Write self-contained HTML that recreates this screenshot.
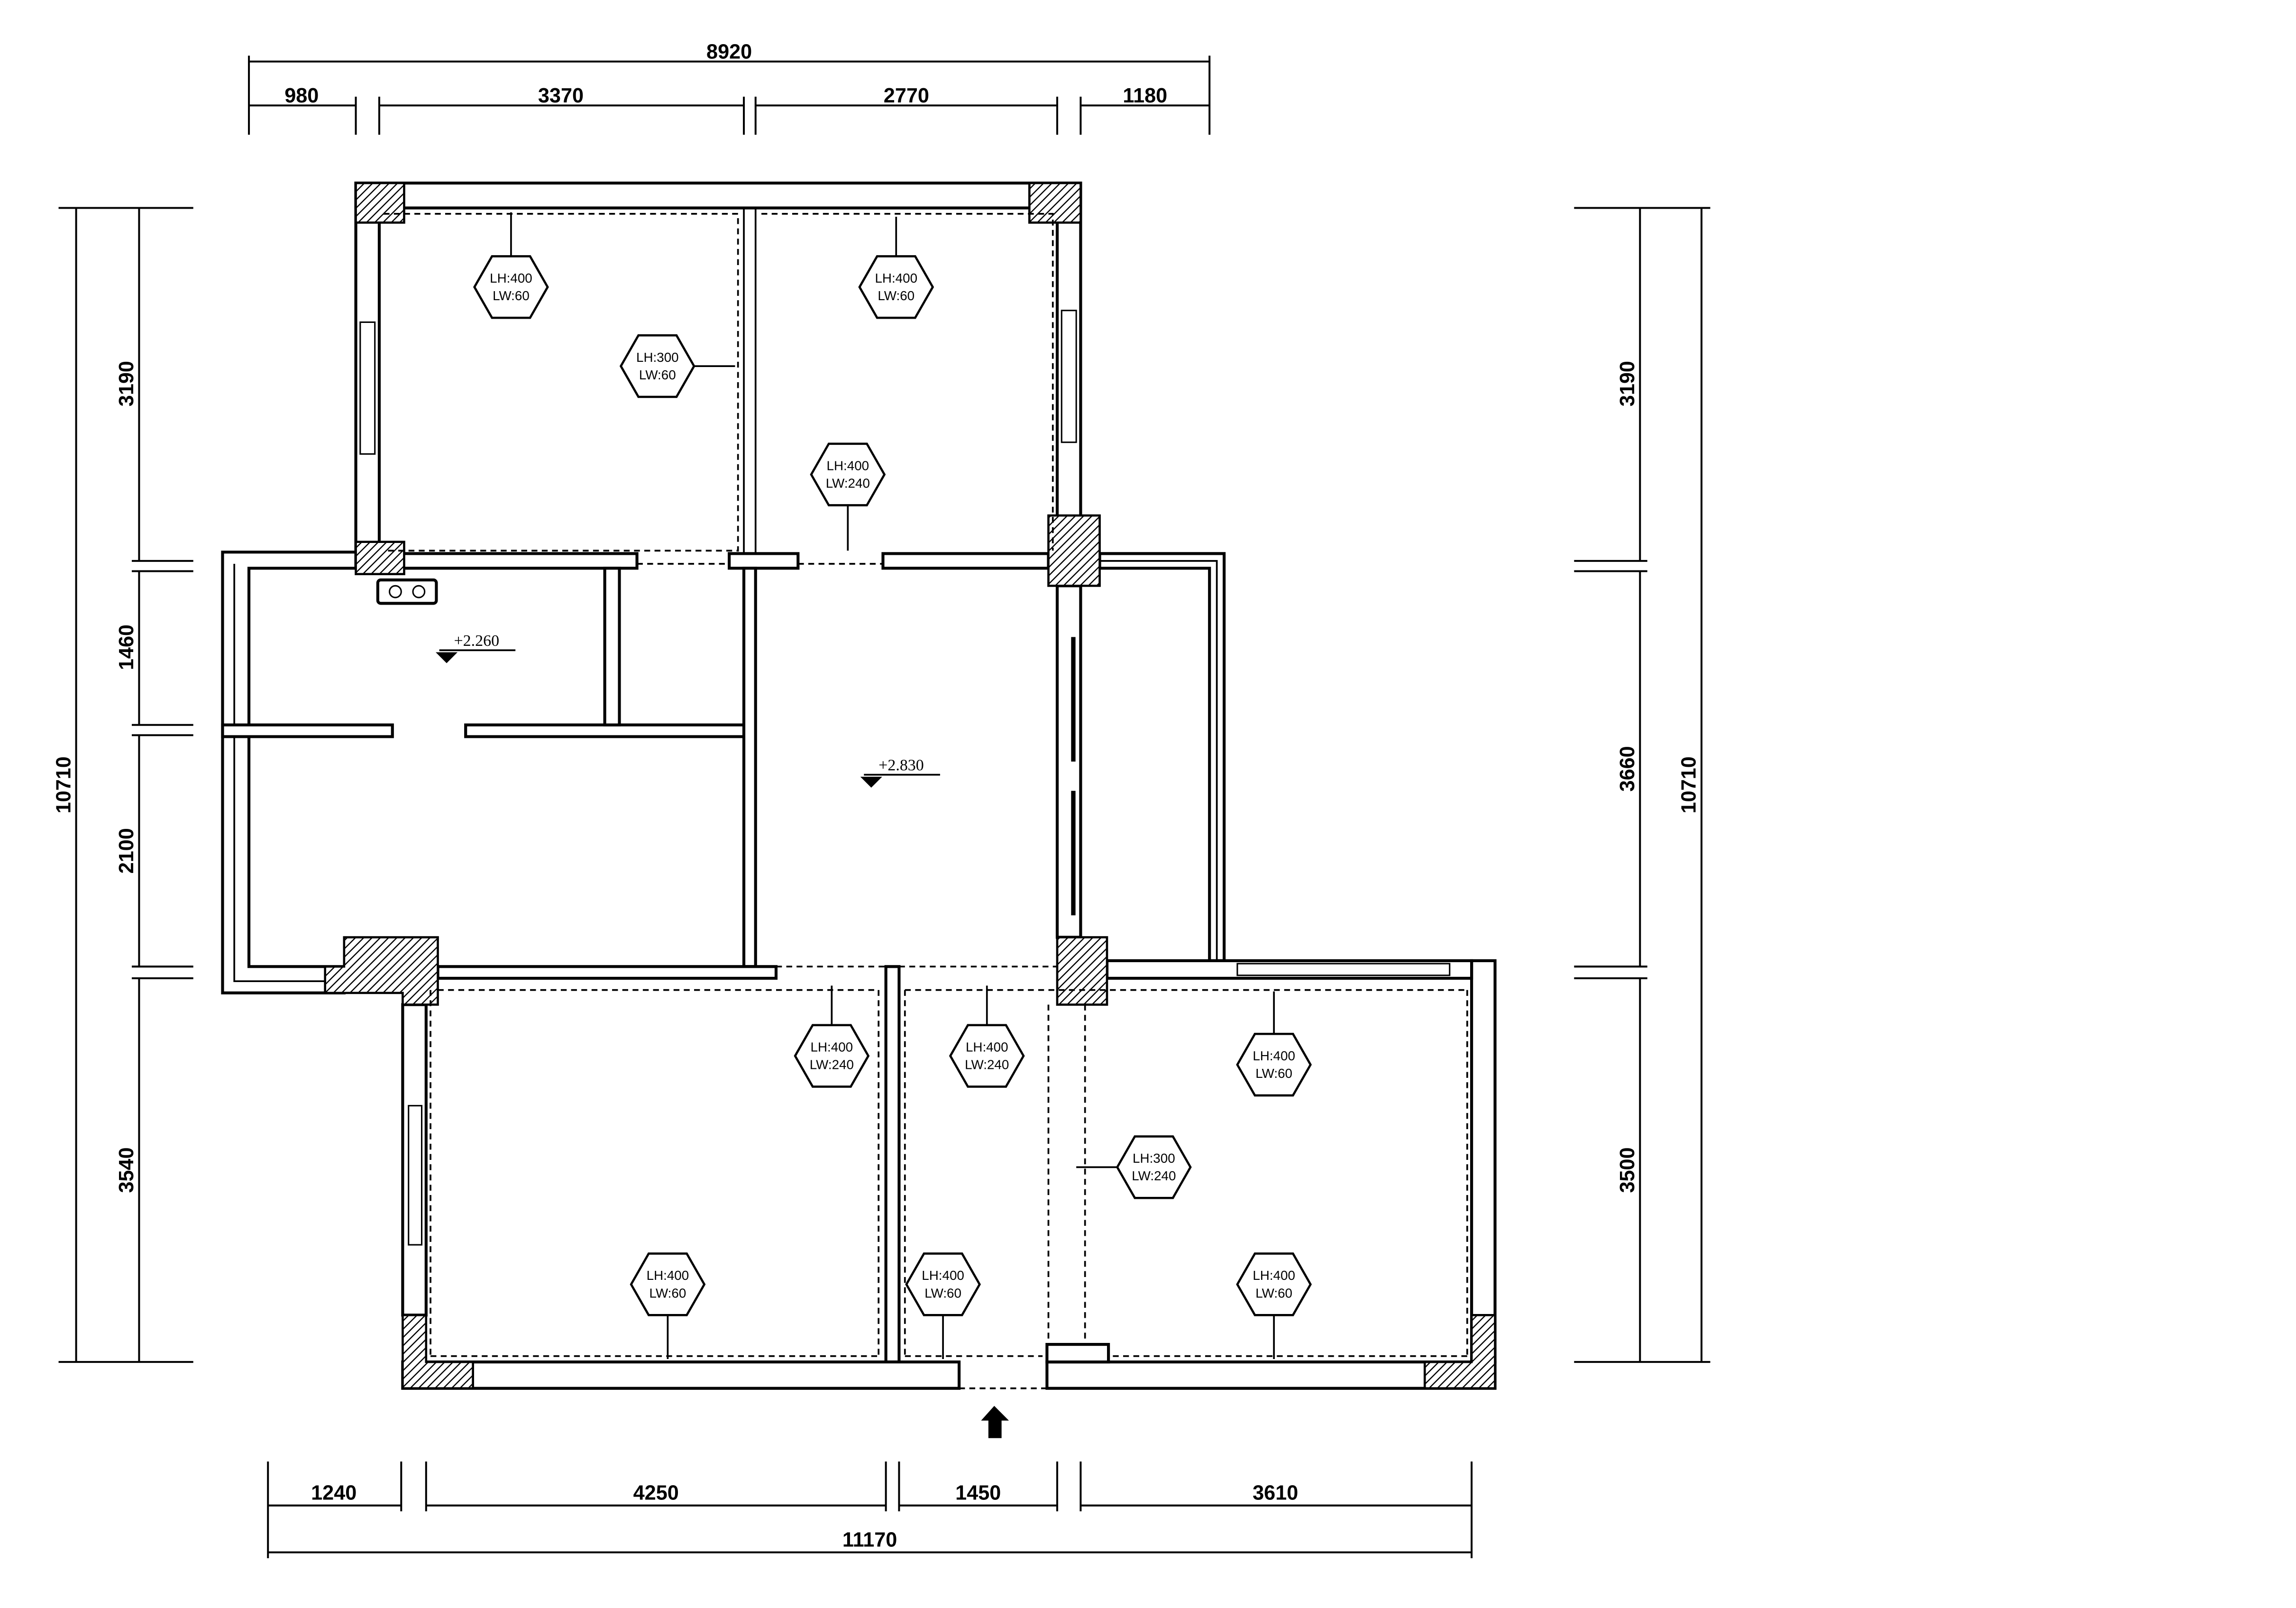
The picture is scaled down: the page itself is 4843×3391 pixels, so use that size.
<!DOCTYPE html>
<html><head><meta charset="utf-8"><style>
html,body{margin:0;padding:0;background:#fff}
svg{display:block}
text{font-family:"Liberation Sans",sans-serif;fill:#000}
.d{font-size:14px;font-weight:bold}
.h{font-family:"Liberation Serif",serif;font-size:9px}
</style></head><body>
<svg width="4843" height="3391" viewBox="0 0 1568 1098" preserveAspectRatio="none" xmlns="http://www.w3.org/2000/svg">
<defs>
<pattern id="hat" width="4" height="4" patternUnits="userSpaceOnUse" patternTransform="rotate(45)">
<rect width="4" height="4" fill="#fff"/><line x1="0" y1="0" x2="0" y2="4" stroke="#000" stroke-width="1.6"/>
</pattern>
</defs>
<rect width="1568" height="1098" fill="#fff"/>
<g stroke="#000" stroke-width="1.3" fill="none">
<line x1="170" y1="42" x2="826" y2="42"/>
<line x1="170" y1="38" x2="170" y2="92"/><line x1="826" y1="38" x2="826" y2="92"/>
<line x1="170" y1="72" x2="243" y2="72"/><line x1="259" y1="72" x2="508" y2="72"/>
<line x1="516" y1="72" x2="722" y2="72"/><line x1="738" y1="72" x2="826" y2="72"/>
<line x1="243" y1="66" x2="243" y2="92"/><line x1="259" y1="66" x2="259" y2="92"/>
<line x1="508" y1="66" x2="508" y2="92"/><line x1="516" y1="66" x2="516" y2="92"/>
<line x1="722" y1="66" x2="722" y2="92"/><line x1="738" y1="66" x2="738" y2="92"/>
<line x1="52" y1="142" x2="52" y2="930"/>
<line x1="95" y1="142" x2="95" y2="383"/><line x1="95" y1="390" x2="95" y2="495"/>
<line x1="95" y1="502" x2="95" y2="660"/><line x1="95" y1="668" x2="95" y2="930"/>
<line x1="40" y1="142" x2="132" y2="142"/><line x1="40" y1="930" x2="132" y2="930"/>
<line x1="90" y1="383" x2="132" y2="383"/><line x1="90" y1="390" x2="132" y2="390"/>
<line x1="90" y1="495" x2="132" y2="495"/><line x1="90" y1="502" x2="132" y2="502"/>
<line x1="90" y1="660" x2="132" y2="660"/><line x1="90" y1="668" x2="132" y2="668"/>
<line x1="1162" y1="142" x2="1162" y2="930"/>
<line x1="1120" y1="142" x2="1120" y2="383"/><line x1="1120" y1="390" x2="1120" y2="660"/>
<line x1="1120" y1="668" x2="1120" y2="930"/>
<line x1="1075" y1="142" x2="1168" y2="142"/><line x1="1075" y1="930" x2="1168" y2="930"/>
<line x1="1075" y1="383" x2="1125" y2="383"/><line x1="1075" y1="390" x2="1125" y2="390"/>
<line x1="1075" y1="660" x2="1125" y2="660"/><line x1="1075" y1="668" x2="1125" y2="668"/>
<line x1="183" y1="1060" x2="1005" y2="1060"/>
<line x1="183" y1="998" x2="183" y2="1064"/><line x1="1005" y1="998" x2="1005" y2="1064"/>
<line x1="183" y1="1028" x2="274" y2="1028"/><line x1="291" y1="1028" x2="605" y2="1028"/>
<line x1="614" y1="1028" x2="722" y2="1028"/><line x1="738" y1="1028" x2="1005" y2="1028"/>
<line x1="274" y1="998" x2="274" y2="1032"/><line x1="291" y1="998" x2="291" y2="1032"/>
<line x1="605" y1="998" x2="605" y2="1032"/><line x1="614" y1="998" x2="614" y2="1032"/>
<line x1="722" y1="998" x2="722" y2="1032"/><line x1="738" y1="998" x2="738" y2="1032"/>
</g>
<g class="d" text-anchor="middle">
<text x="498" y="40">8920</text>
<text x="206" y="70">980</text><text x="383" y="70">3370</text>
<text x="619" y="70">2770</text><text x="782" y="70">1180</text>
<text x="228" y="1024">1240</text><text x="448" y="1024">4250</text>
<text x="668" y="1024">1450</text><text x="871" y="1024">3610</text>
<text x="594" y="1056">11170</text>
<text transform="translate(91,262) rotate(-90)">3190</text>
<text transform="translate(91,442) rotate(-90)">1460</text>
<text transform="translate(91,581) rotate(-90)">2100</text>
<text transform="translate(91,799) rotate(-90)">3540</text>
<text transform="translate(48,536) rotate(-90)">10710</text>
<text transform="translate(1116,262) rotate(-90)">3190</text>
<text transform="translate(1116,525) rotate(-90)">3660</text>
<text transform="translate(1116,799) rotate(-90)">3500</text>
<text transform="translate(1158,536) rotate(-90)">10710</text>
</g>
<g stroke="#000" stroke-width="2" fill="#fff">
<rect x="243" y="125" width="495" height="17"/>
<rect x="243" y="125" width="16" height="258"/>
<rect x="722" y="125" width="16" height="235"/>
<rect x="508" y="142" width="8" height="236" fill="none" stroke-width="1.2"/>
<rect x="259" y="378" width="176" height="10"/>
<rect x="498" y="378" width="47" height="10"/>
<rect x="603" y="378" width="113" height="10"/>
<path d="M152 377 H243 V388 H170 V660 H235 V678 H152 Z"/>
<path d="M160 385 V670 H235" fill="none" stroke-width="1.2"/>
<rect x="152" y="495" width="116" height="8"/>
<rect x="318" y="495" width="190" height="8"/>
<rect x="413" y="388" width="10" height="107"/>
<rect x="508" y="388" width="8" height="272"/>
<rect x="299" y="660" width="231" height="8"/>
<rect x="722" y="400" width="16" height="240"/>
<path d="M751 378 H836 V656 H826 V388 H751 Z"/>
<path d="M751 383 H831 V656" fill="none" stroke-width="1.2"/>
<rect x="275" y="686" width="16" height="212"/>
<rect x="605" y="660" width="9" height="270"/>
<rect x="275" y="930" width="380" height="18"/>
<rect x="715" y="930" width="306" height="18"/>
<rect x="1005" y="656" width="16" height="274"/>
<rect x="756" y="656" width="249" height="12"/>
<rect x="715" y="918" width="42" height="12"/>
<rect x="258" y="396" width="40" height="16" rx="2"/>
</g>
<g fill="#fff" stroke="#000" stroke-width="1">
<rect x="246" y="220" width="10" height="90"/><rect x="725" y="212" width="10" height="90"/>
<rect x="279" y="755" width="9" height="95"/><rect x="845" y="658" width="145" height="8"/>
<circle cx="270" cy="404" r="4"/><circle cx="286" cy="404" r="4"/>
</g>
<g stroke="#000" stroke-width="3">
<line x1="733" y1="435" x2="733" y2="520"/><line x1="733" y1="540" x2="733" y2="625"/>
</g>
<g fill="url(#hat)" stroke="#000" stroke-width="1.5">
<rect x="243" y="125" width="33" height="27"/><rect x="703" y="125" width="35" height="27"/>
<rect x="243" y="370" width="33" height="22"/><rect x="716" y="352" width="35" height="48"/>
<rect x="722" y="640" width="34" height="46"/>
<path d="M235 640 H299 V686 H275 V678 H222 V660 H235 Z"/>
<path d="M275 898 H291 V930 H323 V948 H275 Z"/>
<path d="M1005 898 H1021 V948 H973 V930 H1005 Z"/>
</g>
<g stroke="#000" stroke-width="1.2" fill="none" stroke-dasharray="4,3">
<path d="M262 146 H504 V376 H262"/>
<path d="M520 146 H719 V376"/>
<line x1="435" y1="385" x2="498" y2="385"/><line x1="545" y1="385" x2="603" y2="385"/>
<line x1="530" y1="660" x2="722" y2="660"/>
<line x1="299" y1="676" x2="600" y2="676"/><line x1="294" y1="926" x2="602" y2="926"/>
<line x1="294" y1="676" x2="294" y2="926"/><line x1="600" y1="676" x2="600" y2="926"/>
<line x1="618" y1="676" x2="1002" y2="676"/><line x1="618" y1="926" x2="712" y2="926"/>
<line x1="618" y1="676" x2="618" y2="926"/>
<line x1="716" y1="686" x2="716" y2="918"/><line x1="741" y1="686" x2="741" y2="918"/>
<line x1="760" y1="926" x2="1002" y2="926"/><line x1="1002" y1="676" x2="1002" y2="926"/>
<line x1="655" y1="948" x2="715" y2="948"/>
</g>
<g stroke="#000" stroke-width="1.2">
<line x1="349" y1="145" x2="349" y2="175"/><line x1="474" y1="250" x2="502" y2="250"/>
<line x1="612" y1="148" x2="612" y2="175"/><line x1="579" y1="345" x2="579" y2="376"/>
<line x1="568" y1="673" x2="568" y2="700"/><line x1="674" y1="673" x2="674" y2="700"/>
<line x1="870" y1="677" x2="870" y2="706"/><line x1="735" y1="797" x2="763" y2="797"/>
<line x1="456" y1="898" x2="456" y2="928"/><line x1="644" y1="898" x2="644" y2="928"/>
<line x1="870" y1="898" x2="870" y2="928"/>
</g>
<g fill="#fff" stroke="#000" stroke-width="1.5">
<polygon points="324,196 336,175 362,175 374,196 362,217 336,217"/>
<polygon points="424,250 436,229 462,229 474,250 462,271 436,271"/>
<polygon points="587,196 599,175 625,175 637,196 625,217 599,217"/>
<polygon points="554,324 566,303 592,303 604,324 592,345 566,345"/>
<polygon points="543,721 555,700 581,700 593,721 581,742 555,742"/>
<polygon points="649,721 661,700 687,700 699,721 687,742 661,742"/>
<polygon points="845,727 857,706 883,706 895,727 883,748 857,748"/>
<polygon points="763,797 775,776 801,776 813,797 801,818 775,818"/>
<polygon points="431,877 443,856 469,856 481,877 469,898 443,898"/>
<polygon points="619,877 631,856 657,856 669,877 657,898 631,898"/>
<polygon points="845,877 857,856 883,856 895,877 883,898 857,898"/>
</g>
<g class="h" text-anchor="middle">
<text x="349" y="193">LH:400</text><text x="349" y="205">LW:60</text>
<text x="449" y="247">LH:300</text><text x="449" y="259">LW:60</text>
<text x="612" y="193">LH:400</text><text x="612" y="205">LW:60</text>
<text x="579" y="321">LH:400</text><text x="579" y="333">LW:240</text>
<text x="568" y="718">LH:400</text><text x="568" y="730">LW:240</text>
<text x="674" y="718">LH:400</text><text x="674" y="730">LW:240</text>
<text x="870" y="724">LH:400</text><text x="870" y="736">LW:60</text>
<text x="788" y="794">LH:300</text><text x="788" y="806">LW:240</text>
<text x="456" y="874">LH:400</text><text x="456" y="886">LW:60</text>
<text x="644" y="874">LH:400</text><text x="644" y="886">LW:60</text>
<text x="870" y="874">LH:400</text><text x="870" y="886">LW:60</text>
</g>
<g stroke="#000" stroke-width="1.2" fill="none">
<line x1="300" y1="444" x2="352" y2="444"/><path d="M299 446 H311 L305 452 Z" fill="#000"/>
<line x1="590" y1="529" x2="642" y2="529"/><path d="M589 531 H601 L595 537 Z" fill="#000"/>
</g>
<text class="h" x="310" y="441" style="font-size:11px">+2.260</text>
<text class="h" x="600" y="526" style="font-size:11px">+2.830</text>
<path d="M679 960 L670 970 H675 V982 H684 V970 H689 Z" fill="#000"/>
</svg>
</body></html>
